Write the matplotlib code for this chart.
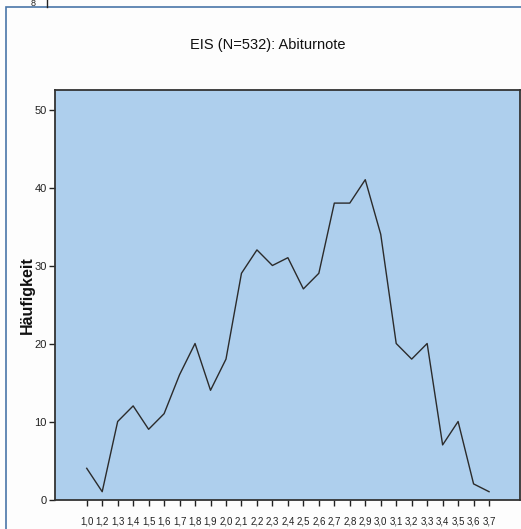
import matplotlib
matplotlib.use("Agg")
import matplotlib.pyplot as plt
from matplotlib.patches import Rectangle
from matplotlib.lines import Line2D

categories = ["1,0", "1,2", "1,3", "1,4", "1,5", "1,6", "1,7", "1,8", "1,9", "2,0",
              "2,1", "2,2", "2,3", "2,4", "2,5", "2,6", "2,7", "2,8", "2,9", "3,0",
              "3,1", "3,2", "3,3", "3,4", "3,5", "3,6", "3,7"]
counts = [4, 1, 10, 12, 9, 11, 16, 20, 14, 18,
          29, 32, 30, 31, 27, 29, 38, 38, 41, 34,
          20, 18, 20, 7, 10, 2, 1]
yticks = [0, 10, 20, 30, 40, 50]
title = "EIS (N=532): Abiturnote"
ylabel = "Häufigkeit"

REG = ["Liberation Sans", "DejaVu Sans"]

W, H = 521, 529
fig = plt.figure(figsize=(W / 100, H / 100), dpi=100)
fig.patch.set_facecolor("#fdfdfd")

# outer frame (from the document page)
frame = Rectangle((6 / W, 1 - 540 / H), 530 / W, (540 - 7) / H, transform=fig.transFigure,
                  fill=False, edgecolor="#4a76a8", linewidth=1.2, clip_on=True)
fig.add_artist(frame)
# remnant of previous chart at top
fig.text(33 / W, 1 - 6.5 / H, "8", ha="center", va="baseline", fontsize=6.5, family=REG, color="#222222")
fig.add_artist(Line2D([47 / W, 47 / W], [1, 1 - 7 / H], transform=fig.transFigure, color="#222222", lw=1))

ax = fig.add_axes([55 / W, (H - 499.5) / H, (520 - 55) / W, (499.5 - 90) / H])
ax.set_facecolor("#aecfed")
x = list(range(len(categories)))
ax.plot(x, counts, color="#2b2b2b", lw=1.0)

ax.set_xlim(-2.05, 28.0)
ax.set_ylim(0, 52.5)
ax.set_xticks(x)
ax.set_xticklabels(categories, fontsize=7, family=REG, color="#222222")
ax.set_yticks(yticks)
ax.set_yticklabels([str(v) for v in yticks], fontsize=8, family=REG, color="#222222")
ax.tick_params(axis="x", direction="out", length=4.5, width=1, color="#222222", pad=8)
ax.tick_params(axis="y", direction="out", length=4.5, width=1, color="#222222", pad=1.5)
for s in ax.spines.values():
    s.set_color("#333333")
    s.set_linewidth(1.3)

fig.text(268 / W, 1 - 45 / H, title, ha="center", va="center", fontsize=10.5, family=REG, color="#111111")
fig.text(27 / W, 1 - 295 / H, ylabel, ha="center", va="center", rotation=90, fontsize=11.5,
         fontweight="bold", family=REG, color="#111111")

fig.savefig("out.png", dpi=100)
